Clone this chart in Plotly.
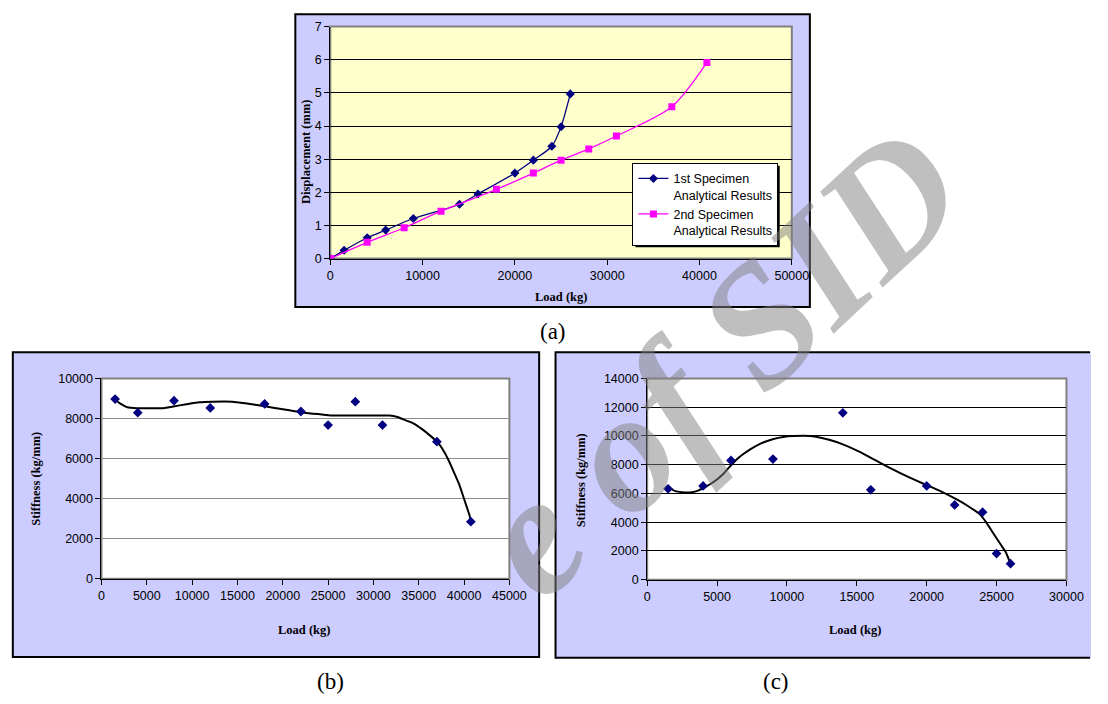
import plotly.graph_objects as go

# ---------------- data ----------------
# (a) load-displacement curves
load_spec1 = [0, 1500, 4000, 6000, 9000, 14000, 16000, 20000, 22000, 24000, 25000, 26000]
disp_spec1 = [0, 0.25, 0.63, 0.86, 1.21, 1.64, 1.95, 2.58, 2.97, 3.39, 3.98, 4.97]
load_spec2 = [0, 4000, 8000, 12000, 18000, 22000, 25000, 28000, 31000, 37000, 40800]
disp_spec2 = [0, 0.49, 0.93, 1.43, 2.09, 2.58, 2.97, 3.31, 3.70, 4.58, 5.92]

# (b) stiffness of the 2nd specimen
load_b = [1500, 4000, 8000, 12000, 18000, 22000, 25000, 28000, 31000, 37000, 40750]
stiff_b = [8970, 8290, 8890, 8530, 8730, 8350, 7670, 8840, 7670, 6840, 2850]
trend_b_x = [1480, 2130, 2850, 3940, 5380, 6830, 7910, 9350, 10800, 12240, 14410, 15860,
             18020, 20190, 22360, 24520, 25250, 27050, 28860, 30500, 31740, 32650, 33550,
             34450, 35360, 36260, 37160, 37880, 38420, 38970, 39510, 40050, 40590, 40770]
trend_b_y = [8940, 8730, 8560, 8515, 8515, 8515, 8600, 8710, 8810, 8840, 8840, 8760,
             8610, 8450, 8290, 8190, 8150, 8150, 8150, 8150, 8150, 8075, 7910,
             7750, 7470, 7145, 6770, 6280, 5790, 5220, 4650, 3915, 3180, 2855]

# (c) stiffness of the 1st specimen
load_c = [1500, 4000, 6000, 9000, 14000, 16000, 20000, 22000, 24000, 25000, 26000]
stiff_c = [6320, 6520, 8300, 8390, 11610, 6250, 6520, 5200, 4700, 1820, 1110]
trend_c_x = [1520, 2010, 2480, 3190, 3650, 4120, 4590, 5060, 5530, 6000, 6460, 6930,
             7400, 7870, 8340, 9040, 9740, 10450, 11620, 12080, 13020, 13960, 15130,
             16300, 17470, 18640, 19810, 20980, 22150, 22860, 23790, 24260, 24730,
             25320, 25670, 26000]
trend_c_y = [6430, 6160, 6090, 6090, 6200, 6430, 6690, 7020, 7440, 7960, 8420, 8780,
             9090, 9350, 9560, 9790, 9930, 9990, 10000, 9950, 9730, 9430, 8930,
             8330, 7730, 7170, 6660, 6160, 5580, 5180, 4560, 3990, 3280,
             2410, 1890, 1090]

legend_names = ["1st Specimen<br>Analytical Results", "2nd Specimen<br>Analytical Results"]

# ---------------- layout helpers ----------------
W, H = 1108, 704


def px(x):
    return x / W


def py(y):
    return 1 - y / H


NAVY = "#000080"
MAGENTA = "#FF00FF"
LAVENDER = "#CCCCFF"
TICK_FONT = dict(family="Liberation Sans, Arial, sans-serif", size=12.5, color="black")
TITLE_FONT = dict(family="Liberation Serif, Times New Roman, serif", size=12.5, color="black")

fig = go.Figure()

# (a)
fig.add_trace(go.Scatter(
    x=load_spec1, y=disp_spec1, name=legend_names[0], mode="lines+markers",
    line=dict(color=NAVY, width=1.3, shape="spline", smoothing=0.8),
    marker=dict(symbol="diamond", size=7, color=NAVY),
    xaxis="x", yaxis="y"))
fig.add_trace(go.Scatter(
    x=load_spec2, y=disp_spec2, name=legend_names[1], mode="lines+markers",
    line=dict(color=MAGENTA, width=1.3, shape="spline", smoothing=0.8),
    marker=dict(symbol="square", size=7, color=MAGENTA),
    xaxis="x", yaxis="y"))

# (b)
fig.add_trace(go.Scatter(
    x=trend_b_x, y=trend_b_y, mode="lines", showlegend=False,
    line=dict(color="black", width=2, shape="spline", smoothing=0.6),
    xaxis="x2", yaxis="y2", hoverinfo="skip"))
fig.add_trace(go.Scatter(
    x=load_b, y=stiff_b, mode="markers", showlegend=False,
    marker=dict(symbol="diamond", size=7.5, color=NAVY),
    xaxis="x2", yaxis="y2"))

# (c)
fig.add_trace(go.Scatter(
    x=trend_c_x, y=trend_c_y, mode="lines", showlegend=False,
    line=dict(color="black", width=2, shape="spline", smoothing=0.6),
    xaxis="x3", yaxis="y3", hoverinfo="skip"))
fig.add_trace(go.Scatter(
    x=load_c, y=stiff_c, mode="markers", showlegend=False,
    marker=dict(symbol="diamond", size=7.5, color=NAVY),
    xaxis="x3", yaxis="y3"))

axis_common = dict(showline=True, linecolor="black", linewidth=1, ticks="outside",
                   ticklen=5, tickcolor="black", tickwidth=1, tickfont=TICK_FONT,
                   tickformat="d", zeroline=False, mirror=False)

fig.update_layout(
    width=W, height=H, margin=dict(l=0, r=0, t=0, b=0),
    paper_bgcolor="white", plot_bgcolor="rgba(0,0,0,0)",
    showlegend=True,
    legend=dict(x=px(641), y=py(159), xanchor="left", yanchor="top",
                bgcolor="white", bordercolor="black", borderwidth=1,
                font=dict(family="Liberation Sans, Arial, sans-serif", size=12.5, color="black"),
                valign="top", tracegroupgap=4, itemwidth=30),
    xaxis=dict(domain=[px(333.3), px(803.3)], range=[0, 50000], dtick=10000,
               showgrid=False, anchor="y", **axis_common),
    yaxis=dict(domain=[py(256.7), py(20)], range=[0, 7], dtick=1,
               showgrid=True, gridcolor="black", gridwidth=1, anchor="x", **axis_common),
    xaxis2=dict(domain=[px(100.3), px(515.7)], range=[0, 45000], dtick=5000,
                showgrid=False, anchor="y2", **axis_common),
    yaxis2=dict(domain=[py(583.3), py(379)], range=[0, 10000], dtick=2000,
                showgrid=True, gridcolor="#8c8c8c", gridwidth=1, anchor="x2", **axis_common),
    xaxis3=dict(domain=[px(656), px(1083)], range=[0, 30000], dtick=5000,
                showgrid=False, anchor="y3", **axis_common),
    yaxis3=dict(domain=[py(584.3), py(379)], range=[0, 14000], dtick=2000,
                showgrid=True, gridcolor="black", gridwidth=1, anchor="x3", **axis_common),
)

shapes = []
# outer chart frames of (a) and (b)
for (x0, y0, x1, y1) in [(297.7, 7.3, 821.7, 306), (10, 352.3, 546, 663.3)]:
    shapes.append(dict(type="rect", xref="paper", yref="paper",
                       x0=px(x0), y0=py(y1), x1=px(x1), y1=py(y0),
                       fillcolor=LAVENDER, line=dict(color="black", width=2), layer="below"))
# frame of (c) runs off the right edge of the page: fill plus three drawn sides
shapes.append(dict(type="rect", xref="paper", yref="paper",
                   x0=px(562.7), y0=py(664), x1=1, y1=py(352.3),
                   fillcolor=LAVENDER, line=dict(width=0), layer="below"))
shapes.append(dict(type="path", xref="paper", yref="paper",
                   path=(f"M {px(1107):.5f},{py(352.3):.5f} L {px(562.7):.5f},{py(352.3):.5f} "
                         f"L {px(562.7):.5f},{py(664):.5f} L {px(1107):.5f},{py(664):.5f}"),
                   line=dict(color="black", width=2), layer="below"))
# plot-area backgrounds and grey borders
for xr, fill in [("x", "#FFFFCC"), ("x2", "white"), ("x3", "white")]:
    yr = xr.replace("x", "y")
    shapes.append(dict(type="rect", xref=f"{xr} domain", yref=f"{yr} domain",
                       x0=0, y0=0, x1=1, y1=1, fillcolor=fill,
                       line=dict(color="#808080", width=2), layer="below"))
# legend drop shadow
shapes.append(dict(type="rect", xref="paper", yref="paper",
                   x0=px(644), y0=py(245), x1=px(791), y1=py(162),
                   fillcolor="black", line=dict(width=0), layer="above"))
fig.update_layout(shapes=shapes)

annotations = []


def label(text, x, y, font, angle=0):
    annotations.append(dict(text=text, x=px(x), y=py(y), xref="paper", yref="paper",
                            xanchor="center", yanchor="middle", showarrow=False,
                            textangle=angle, font=font))


bold_title = dict(TITLE_FONT)
label("<b>Displacement (mm)</b>", 308.5, 147, bold_title, -90)
label("<b>Load (kg)</b>", 568.3, 296, bold_title)
label("<b>Stiffness (kg/mm)</b>", 33.3, 481.7, bold_title, -90)
label("<b>Load (kg)</b>", 306.7, 636, bold_title)
label("<b>Stiffness (kg/mm)</b>", 588.3, 483.3, bold_title, -90)
label("<b>Load (kg)</b>", 868, 636, bold_title)

panel_font = dict(family="Liberation Serif, Times New Roman, serif", size=23, color="black")
label("(a)", 560, 331, panel_font)
label("(b)", 333.3, 688.3, panel_font)
label("(c)", 787, 688.3, panel_font)

# diagonal archive stamp (the part that falls inside the page)
stamp_font = dict(family="Liberation Serif, Times New Roman, serif", size=172,
                  color="rgba(128,128,128,0.5)")
label("<b><i>e of SID</i></b>", 728, 362, stamp_font, -43)

fig.update_layout(annotations=annotations)

fig.write_html("out.html")
